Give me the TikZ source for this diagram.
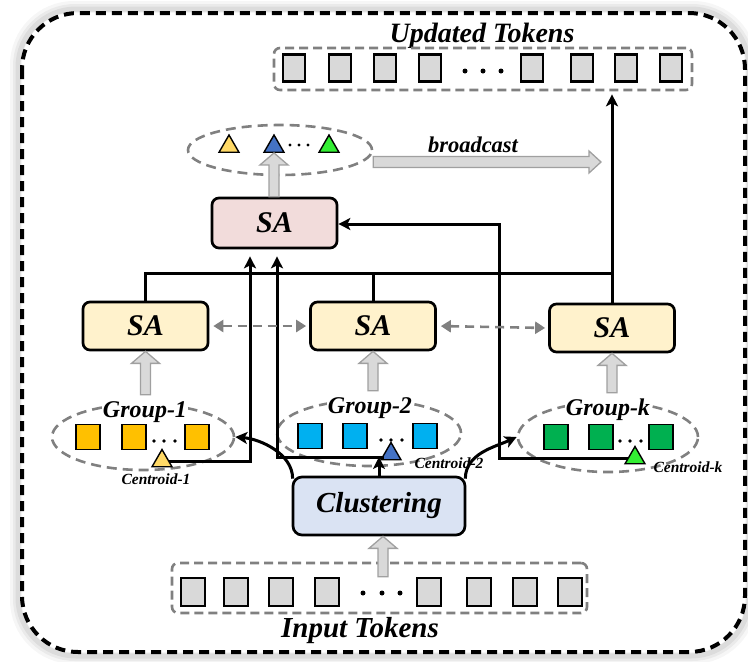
\documentclass[tikz,border=0pt]{standalone}
\usepackage{fontspec}
\setmainfont{Liberation Serif}
\usetikzlibrary{shapes.geometric,arrows.meta,calc}

\definecolor{sayellow}{HTML}{FFF2CC}
\definecolor{sapink}{HTML}{F2DCDB}
\definecolor{clusblue}{HTML}{DAE3F3}
\definecolor{tokgray}{HTML}{D9D9D9}
\definecolor{dashgray}{HTML}{808080}
\definecolor{arrfill}{HTML}{D9D9D9}
\definecolor{arrdraw}{HTML}{A0A0A0}
\definecolor{sqyellow}{HTML}{FFC000}
\definecolor{sqblue}{HTML}{00B0F0}
\definecolor{sqgreen}{HTML}{00B050}
\definecolor{triyellow}{HTML}{FFD966}
\definecolor{triblue}{HTML}{4472C4}
\definecolor{trigreen}{HTML}{33EE33}

% hollow grey block arrows (upwards / rightwards)
\newcommand{\blockup}[2]{%
  \path[blockarr] let \p1=#1, \p2=#2 in
    (\x2-5pt,\y1) -- (\x2-5pt,\y2-12pt) -- (\x2-14pt,\y2-12pt) -- (\x2,\y2)
    -- (\x2+14pt,\y2-12pt) -- (\x2+5pt,\y2-12pt) -- (\x2+5pt,\y1) -- cycle;}
\newcommand{\blockright}[2]{%
  \path[blockarr] let \p1=#1, \p2=#2 in
    (\x1,\y1+5.5pt) -- (\x2-12pt,\y1+5.5pt) -- (\x2-12pt,\y1+11pt) -- (\x2,\y1)
    -- (\x2-12pt,\y1-11pt) -- (\x2-12pt,\y1-5.5pt) -- (\x1,\y1-5.5pt) -- cycle;}

\begin{document}
\begin{tikzpicture}[x=1pt, y=-1pt,
  bi/.style={font=\fontsize{#1}{#1}\selectfont\bfseries\itshape},
  sabox/.style={draw, line width=2.7pt, rounded corners=7pt, minimum width=125pt,
    minimum height=48pt, inner sep=0pt, bi=30},
  strip/.style={draw=dashgray, line width=2.6pt, dash pattern=on 9pt off 5pt,
    rounded corners=6pt, inner sep=0pt},
  grpell/.style={ellipse, draw=dashgray, line width=2.6pt, dash pattern=on 10pt off 6pt,
    inner sep=0pt},
  tok/.style={draw, line width=2.2pt, fill=tokgray, inner sep=0pt},
  gsq/.style={draw, line width=1.5pt, minimum width=24pt, minimum height=25pt, inner sep=0pt},
  tri/.style={regular polygon, regular polygon sides=3, minimum size=23pt, inner sep=0pt,
    draw, line width=1.4pt},
  conn/.style={draw, line width=3pt},
  arr/.style={conn, -{Stealth[length=12pt, width=12pt, inset=3pt]}},
  gdarr/.style={draw=dashgray, line width=2.6pt, dash pattern=on 9pt off 6pt,
    {Triangle[length=10pt,width=12pt]}-{Triangle[length=10pt,width=12pt]},
    shorten <=4pt, shorten >=3pt},
  blockarr/.style={fill=arrfill, draw=arrdraw, line width=1.3pt},
]
\useasboundingbox (0,0) rectangle (748,662);

% outer frame with a soft halo outside it
\begin{scope}[rounded corners=58pt]
  \foreach \d/\w/\o in {6/12/0.05, 5/8/0.07, 4/5/0.09}
    \draw[line width=\w pt, black!70, opacity=\o] (22-\d,13-\d) rectangle (745+\d,652+\d);
\end{scope}
\draw[line width=4pt, dash pattern=on 10pt off 6pt, rounded corners=56pt] (22,13) rectangle (745,652);

% updated tokens
\node[bi=28, anchor=base, inner sep=0pt] (updlab) at (482,42) {Updated Tokens};
\node[strip, minimum width=418pt, minimum height=42pt] (upd) at (483,69) {};
\foreach \i/\x in {1/294,2/340,3/385,4/430,5/532,6/582,7/626,8/671}
  \node[tok, minimum width=22pt, minimum height=27pt] (u\i) at (\x,68) {};
\foreach \x in {465,483,501} \fill (\x,71) circle (2.5pt);

% centroids after attention
\node[grpell, minimum width=184pt, minimum height=50pt] (cent) at (280,150) {};
\node[tri, fill=triyellow] (ty) at (229,146.5) {};
\node[tri, fill=triblue] (tb) at (274,146.5) {};
\node[tri, fill=trigreen] (tg) at (329,146.5) {};
\foreach \x in {290,299,308} \fill (\x,145) circle (1.7pt);

% attention blocks
\node[sabox, fill=sapink, minimum height=50pt] (pink) at (274.5,223) {SA};
\node[sabox, fill=sayellow] (sa1) at (145.5,326) {SA};
\node[sabox, fill=sayellow] (sa2) at (373,326) {SA};
\node[sabox, fill=sayellow] (sa3) at (612,328) {SA};

% groups
\node[grpell, minimum width=182pt, minimum height=66pt] (g1) at (143,437) {};
\node[grpell, minimum width=184pt, minimum height=66pt] (g2) at (369,433) {};
\node[grpell, minimum width=180pt, minimum height=70pt] (gk) at (608,437) {};
\node[bi=24, anchor=base, fill=white, inner sep=1pt] (g1lab) at (145,417) {Group-1};
\node[bi=24, anchor=base, fill=white, inner sep=1pt] (g2lab) at (370,413) {Group-2};
\node[bi=24, anchor=base, fill=white, inner sep=1pt] (gklab) at (608,415) {Group-k};

\foreach \i/\x in {1/88,2/134,3/197} \node[gsq, fill=sqyellow] (a\i) at (\x,437) {};
\foreach \i/\x in {1/310,2/355,3/425} \node[gsq, fill=sqblue] (b\i) at (\x,436) {};
\foreach \i/\x in {1/556,2/601,3/661} \node[gsq, fill=sqgreen] (k\i) at (\x,437) {};
\foreach \x in {154,164,175} \fill (\x,441) circle (1.8pt);
\foreach \x in {381,391,402} \fill (\x,440) circle (1.8pt);
\foreach \x in {620,630,641} \fill (\x,441) circle (1.8pt);

\node[tri, fill=triyellow] (c1) at (162,461) {};
\node[tri, fill=triblue] (c2) at (391,454) {};
\node[tri, fill=trigreen] (ck) at (635,458) {};
\node[bi=15.5, anchor=base, inner sep=0pt] (c1lab) at (156,484) {Centroid-1};
\node[bi=15.5, anchor=base, inner sep=0pt] (c2lab) at (449,468) {Centroid-2};
\node[bi=15.5, anchor=base, inner sep=0pt] (cklab) at (688,472) {Centroid-k};

% clustering and input tokens
\node[sabox, fill=clusblue, minimum width=172pt, minimum height=58pt, rounded corners=9pt, bi=29]
  (clus) at (379,506) {Clustering};
\node[strip, minimum width=415pt, minimum height=50pt] (inp) at (379.5,588) {};
\foreach \i/\x in {1/193,2/236,3/281,4/327,5/429,6/479,7/525,8/570}
  \node[tok, minimum width=24pt, minimum height=28pt] (in\i) at (\x,592) {};
\foreach \x in {363,382,400} \fill (\x,593) circle (2.5pt);
\node[bi=29, anchor=base, inner sep=0pt] (inplab) at (360,637) {Input Tokens};

% group attention results merged and written back
\path (sa1.north) ++(0,-27) coordinate (t1);
\coordinate (t3) at (t1 -| sa3.north);
\draw[conn] (sa1.north) -- (t1) -- (t3);
\draw[conn] (sa2.north) -- (sa2.north |- t1);
\draw[arr, shorten >=3pt] (sa3.north) -- (upd.south -| sa3.north);

% centroids routed to the centroid attention
\draw[arr, shorten >=7pt] (c1.east) -| ($(pink.south)+(-24.5,0)$);
\coordinate (c2a) at ($(c2.west)+(0,3)$);
\draw[arr, shorten >=7pt] (c2a) -| ($(pink.south)+(2.5,0)$);
\coordinate (kx) at (499,0);
\draw[arr] (ck.west) -- (ck.west -| kx) |- ($(pink.east)+(0,1)$);

% clustering outputs
\draw[arr] (clus.north) -- (clus.north |- c2a);
\draw[arr] ($(clus.north west)+(1,3)$) .. controls +(0,-25) and +(25,2) .. (g1.east);
\draw[arr] ($(clus.north east)+(-1,3)$) .. controls +(0,-25) and +(-22,10) .. (gk.west);

% information exchange between groups
\draw[gdarr] (sa1.east) -- (sa2.west);
\draw[gdarr] (sa2.east) -- (sa3.west);

% block arrows
\blockup{($(g1.north)+(0,-8)$)}{(sa1.south)}
\blockup{($(g2.north)+(0,-8)$)}{(sa2.south)}
\blockup{($(gk.north)+(0,-8)$)}{(sa3.south)}
\blockup{(pink.north)}{(tb.south)}
\blockup{($(inp.north)+(4,15)$)}{($(clus.south)+(4,0)$)}
\coordinate (bc0) at ($(cent.east)+(0,12)$);
\coordinate (bc1) at (601,162);
\blockright{(bc0)}{(bc1)}
\node[bi=22.5, anchor=base, inner sep=0pt] (bclab) at (473,152) {broadcast};

\end{tikzpicture}
\end{document}
